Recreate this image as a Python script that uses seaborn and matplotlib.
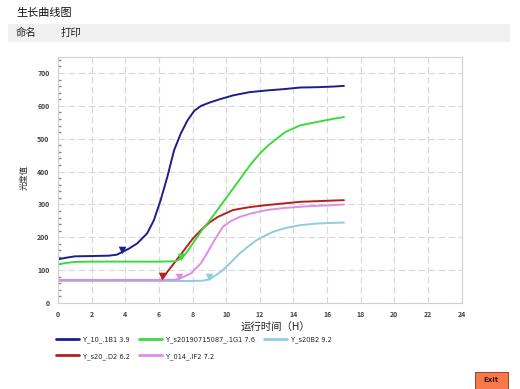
import matplotlib
matplotlib.use('Agg')
import matplotlib.pyplot as plt
import seaborn as sns
import pandas as pd
from matplotlib.patches import Rectangle
from matplotlib.lines import Line2D
from matplotlib.ticker import MultipleLocator

# Growth curves (hours, optical density)
blue_x = [0, 0.5, 1, 2, 3, 3.5, 3.8, 4.2, 4.7, 5.3, 5.7, 6.1, 6.5, 6.9, 7.3, 7.7, 8.1, 8.5, 9.0, 9.6, 10.4, 11.4, 12.4, 13.4, 14.4, 15.4, 16.4, 17]
blue_y = [133, 138, 142, 143, 144, 147, 155, 165, 181, 212, 252, 313, 384, 465, 516, 556, 585, 600, 610, 620, 632, 642, 647, 651, 656, 657, 659, 661]

green_x = [0, 0.5, 1, 2, 3, 4, 5, 6, 7, 7.4, 7.8, 8.2, 8.6, 9.0, 9.5, 10.0, 10.5, 11.0, 11.5, 12.0, 12.5, 13.0, 13.5, 14.4, 15.4, 16.4, 17]
green_y = [118, 122, 125, 126, 126, 126, 126, 126, 127, 138, 165, 195, 225, 250, 285, 320, 355, 390, 425, 455, 480, 500, 520, 541, 551, 561, 566]

cyan_x = [0, 2, 4, 6, 7, 8, 8.6, 9.0, 9.4, 9.8, 10.3, 10.8, 11.3, 11.8, 12.3, 12.8, 13.5, 14.4, 15.4, 16.4, 17]
cyan_y = [67, 67, 67, 67, 67, 67, 68, 72, 85, 100, 125, 151, 172, 191, 205, 217, 228, 237, 242, 244, 245]

red_x = [0, 1, 2, 3, 4, 5, 6, 6.2, 6.5, 6.9, 7.5, 8.0, 8.5, 9.0, 9.5, 10.4, 11.4, 12.4, 13.4, 14.4, 15.4, 16.4, 17]
red_y = [70, 70, 70, 70, 70, 70, 70, 72, 95, 121, 161, 195, 222, 245, 262, 283, 292, 298, 303, 308, 310, 312, 313]

pink_x = [0, 1, 2, 3, 4, 5, 6, 7, 7.4, 7.9, 8.5, 8.9, 9.3, 9.8, 10.3, 10.8, 11.5, 12.4, 13.4, 14.4, 15.4, 16.4, 17]
pink_y = [70, 70, 70, 70, 70, 70, 70, 71, 78, 90, 121, 155, 191, 232, 250, 262, 273, 283, 289, 293, 296, 298, 300]

labels = ['Y_10_.1B1 3.9', 'Y_s20190715087_.1G1 7.6', 'Y_s20B2 9.2', 'Y_s20_.D2 6.2', 'Y_014_.IF2 7.2']
colors = ['#1c1f8c', '#3fd83f', '#90cbe0', '#b4221e', '#e08ee2']

# threshold markers (one per curve)
marker_x = [3.8, 7.3, 9.0, 6.2, 7.2]
marker_y = [160, 140, 78, 82, 80]

sns.set_theme(style='white')
plt.rcParams['font.family'] = ['Noto Sans CJK SC', 'DejaVu Sans']

fig = plt.figure(figsize=(5.2, 3.89), dpi=100)
ax = fig.add_axes([58 / 520, 86 / 389, 403.7 / 520, 245.7 / 389])

series = [(blue_x, blue_y), (green_x, green_y), (cyan_x, cyan_y), (red_x, red_y), (pink_x, pink_y)]
draw_order = [2, 3, 4, 1, 0]
for i in draw_order:
    xs, ys = series[i]
    df = pd.DataFrame({'t': xs, 't_v': ys})
    sns.lineplot(data=df, x='t', y='t_v', color=colors[i], linewidth=1.4, ax=ax, legend=False)
for i in range(5):
    ax.scatter(marker_x[i], marker_y[i], marker='v', s=30, color=colors[i], zorder=5, linewidths=0)

ax.set_xlim(0, 24)
ax.set_ylim(0, 748)
ax.set_xticks(range(0, 25, 2))
ax.set_yticks(range(0, 701, 100))
ax.yaxis.set_minor_locator(MultipleLocator(20))
ax.tick_params(axis='both', which='major', labelsize=5, colors='#444444', length=3, direction='in', pad=6)
ax.tick_params(axis='y', which='minor', length=2, direction='in', color='#888888', left=True)
for lab in ax.get_xticklabels() + ax.get_yticklabels():
    lab.set_fontweight('bold')
ax.grid(True, which='major', linestyle=(0, (6, 3)), color='#d8d8d8', linewidth=0.8)
for s in ax.spines.values():
    s.set_color('#d0d0d0')
    s.set_linewidth(0.8)
ax.set_xlabel('')
ax.set_ylabel('')

fig.text(275 / 520, 1 - 327 / 389, '运行时间（H）', ha='center', va='center', fontsize=7.5, color='#222222')
fig.text(24 / 520, 1 - 177 / 389, '光度值', ha='center', va='center', rotation=90, fontsize=6, color='#333333')

# header
fig.text(16 / 520, 1 - 13 / 389, '生长曲线图', ha='left', va='center', fontsize=8, color='#111111')
fig.patches.append(Rectangle((8 / 520, 1 - 42 / 389), 502 / 520, 18 / 389, transform=fig.transFigure,
                             facecolor='#f0f0f0', edgecolor='none', zorder=0))
fig.text(16 / 520, 1 - 33 / 389, '命名', ha='left', va='center', fontsize=7.5, color='#222222')
fig.text(61 / 520, 1 - 33 / 389, '打印', ha='left', va='center', fontsize=7.5, color='#222222')

# legend (row-major order across 3 columns)
order = [0, 3, 1, 4, 2]
handles = [Line2D([0], [0], color=colors[i], linewidth=2) for i in order]
leg = fig.legend(handles, [labels[i] for i in order], ncol=3, loc='upper left',
                 bbox_to_anchor=(50 / 520, 1 - 330 / 389), frameon=False,
                 prop={'family': 'DejaVu Sans', 'size': 4.8, 'weight': 'normal'},
                 handlelength=3.4, handletextpad=0.6, columnspacing=1.4, labelspacing=1.5)
for t in leg.get_texts():
    t.set_color('#222222')

# exit button
fig.patches.append(Rectangle((475 / 520, 0), 33 / 520, 17 / 389, transform=fig.transFigure,
                             facecolor='#f8784a', edgecolor='#7a3520', linewidth=0.6, zorder=2))
fig.text(491.5 / 520, 8.5 / 389, 'Exit', ha='center', va='center', fontsize=5, fontweight='bold',
         color='#3a1a10', family='DejaVu Sans', zorder=3)

fig.savefig('out.png', dpi=100)
